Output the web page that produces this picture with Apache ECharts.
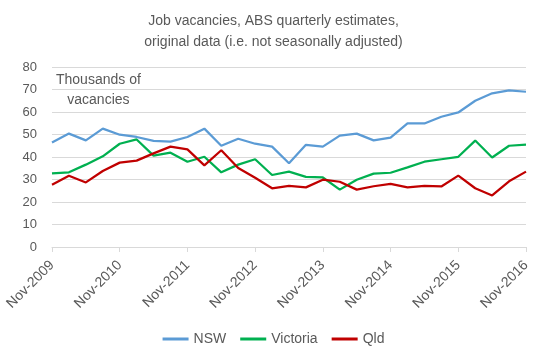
<!DOCTYPE html>
<html>
<head>
<meta charset="utf-8">
<script src="https://cdn.jsdelivr.net/npm/echarts@6/dist/echarts.min.js"></script>
<style>html,body{margin:0;padding:0;background:#fff}#c{width:547px;height:360px}</style>
</head>
<body>
<div id="c"></div>
<script>
const quarters = [
  'Nov-2009','Feb-2010','May-2010','Aug-2010','Nov-2010','Feb-2011','May-2011','Aug-2011',
  'Nov-2011','Feb-2012','May-2012','Aug-2012','Nov-2012','Feb-2013','May-2013','Aug-2013',
  'Nov-2013','Feb-2014','May-2014','Aug-2014','Nov-2014','Feb-2015','May-2015','Aug-2015',
  'Nov-2015','Feb-2016','May-2016','Aug-2016','Nov-2016'
];
const nsw = [46.4,50.4,47.4,52.6,49.9,48.9,47.2,46.8,48.9,52.6,45.0,48.1,45.9,44.6,37.2,
  45.4,44.6,49.5,50.4,47.4,48.6,54.9,54.9,57.9,59.8,65.0,68.3,69.6,69.0];
const victoria = [32.7,33.2,36.6,40.3,45.9,47.8,40.6,41.9,37.9,40.1,33.2,36.6,39.0,32.0,33.5,
  31.2,30.9,25.5,29.9,32.6,33.0,35.4,37.9,39.0,40.1,47.3,39.8,45.0,45.5];
const qld = [27.7,31.7,28.7,33.8,37.5,38.4,41.6,44.6,43.4,36.3,43.0,35.1,30.8,26.1,27.2,
  26.5,29.9,29.0,25.5,27.0,28.1,26.5,27.2,26.9,31.7,26.1,22.9,29.2,33.5];
const yTicks = {min: 0, max: 80, interval: 10};

const txt = '#595959';
const font = 'Liberation Sans';
const chart = echarts.init(document.getElementById('c'));
chart.setOption({
  animation: false,
  textStyle: {fontFamily: font},
  title: {
    text: 'Job vacancies, ABS quarterly estimates,\noriginal data (i.e. not seasonally adjusted)',
    left: 'center', top: 6,
    textStyle: {color: txt, fontSize: 14, fontWeight: 'normal', lineHeight: 21, fontFamily: font}
  },
  graphic: [{
    type: 'text', left: 56, top: 70,
    style: {text: 'Thousands of\nvacancies', fill: txt, font: '14px "Liberation Sans"', lineHeight: 20, textAlign: 'center', align: 'center'}
  }],
  legend: {
    bottom: 9, left: 'center',
    icon: 'rect', itemWidth: 26, itemHeight: 3, itemGap: 14,
    textStyle: {color: txt, fontSize: 14, fontFamily: font},
    data: ['NSW', 'Victoria', 'Qld']
  },
  grid: {left: 52, right: 21, top: 67, bottom: 113},
  xAxis: {
    type: 'category', boundaryGap: false, data: quarters,
    axisLine: {lineStyle: {color: '#d9d9d9'}},
    axisTick: {interval: 3, length: 5, lineStyle: {color: '#d9d9d9'}},
    axisLabel: {interval: 3, rotate: 45, color: txt, fontSize: 14, margin: 16, fontFamily: font}
  },
  yAxis: {
    type: 'value', min: yTicks.min, max: yTicks.max, interval: yTicks.interval,
    axisLine: {show: false}, axisTick: {show: false},
    axisLabel: {color: txt, fontSize: 13, margin: 15, fontFamily: font},
    splitLine: {lineStyle: {color: '#d9d9d9'}}
  },
  series: [
    {name: 'NSW', type: 'line', data: nsw, symbol: 'none', lineStyle: {color: '#5B9BD5', width: 2.25}, itemStyle: {color: '#5B9BD5'}},
    {name: 'Victoria', type: 'line', data: victoria, symbol: 'none', lineStyle: {color: '#00B050', width: 2.25}, itemStyle: {color: '#00B050'}},
    {name: 'Qld', type: 'line', data: qld, symbol: 'none', lineStyle: {color: '#C00000', width: 2.25}, itemStyle: {color: '#C00000'}}
  ]
});
</script>
</body>
</html>
